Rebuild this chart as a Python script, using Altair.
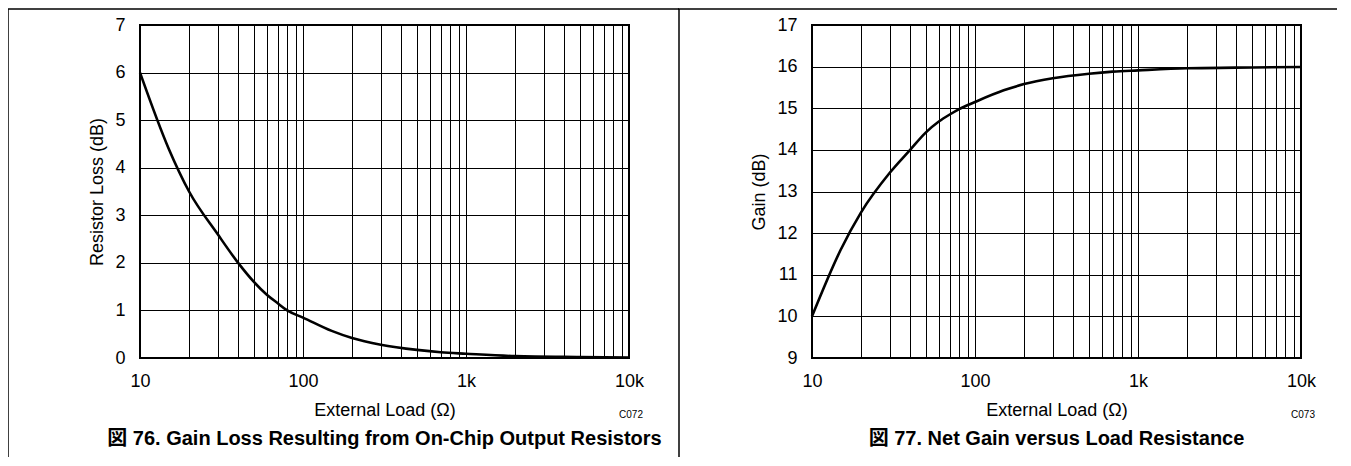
import altair as alt
import pandas as pd

# ---- data ----
load_ohm = [10, 15, 20, 30, 40, 50, 60, 70, 80, 100, 150, 200, 300, 500, 700, 1000, 2000, 5000, 10000]
resistor_loss_db = [6.0, 4.4, 3.5, 2.6, 2.0, 1.6, 1.33, 1.15, 1.0, 0.85, 0.57, 0.42, 0.28, 0.17, 0.12, 0.09, 0.04, 0.02, 0.01]
net_gain_db = [10.0, 11.6, 12.5, 13.45, 14.0, 14.42, 14.68, 14.85, 14.98, 15.15, 15.43, 15.58, 15.72, 15.83, 15.88, 15.91, 15.96, 15.98, 15.99]

grid_x = [10, 20, 30, 40, 50, 60, 70, 80, 90,
          100, 200, 300, 400, 500, 600, 700, 800, 900,
          1000, 2000, 3000, 4000, 5000, 6000, 7000, 8000, 9000, 10000]
x_tick_values = [10, 100, 1000, 10000]
x_tick_labels = ["10", "100", "1k", "10k"]
left_y_ticks = [0, 1, 2, 3, 4, 5, 6, 7]
right_y_ticks = [9, 10, 11, 12, 13, 14, 15, 16, 17]

FONT = "Liberation Sans, Arial, Noto Sans CJK JP"
W, H = 489, 333

label_expr = " : ".join(
    f"datum.value == {v} ? '{l}'" for v, l in zip(x_tick_values, x_tick_labels)
) + " : ''"

df = pd.DataFrame({"load": load_ohm, "loss": resistor_loss_db, "gain": net_gain_db})
one = pd.DataFrame({"k": [0]})


def panel(ycol, ytitle, ydomain, yticks, ytitle_x, code, caption, top_from, top_to, divider):
    xenc = alt.X(
        "load:Q",
        scale=alt.Scale(type="log", domain=[10, 10000], nice=False),
        axis=alt.Axis(
            values=grid_x, labelExpr=label_expr, title="External Load (Ω)",
            grid=True, ticks=False, domain=False, labelFlush=False, labelOverlap=False,
            labelPadding=14, titleY=52, titleBaseline="middle",
        ),
    )
    yenc = alt.Y(
        f"{ycol}:Q",
        scale=alt.Scale(domain=ydomain, nice=False, zero=False),
        axis=alt.Axis(
            values=yticks, title=ytitle, grid=True, ticks=False, domain=False,
            labelPadding=15, titleX=ytitle_x, titleY=H / 2, titleBaseline="middle",
        ),
    )
    line = alt.Chart(df).mark_line(color="black", strokeWidth=2.6, interpolate="monotone").encode(
        x=xenc, y=yenc
    )
    layers = [line]
    base = alt.Chart(one)
    # top border of the page frame
    layers.append(base.mark_rule(color="black", strokeWidth=1.5).encode(
        x=alt.value(top_from), x2=alt.value(top_to), y=alt.value(-16)))
    for xv in divider:
        layers.append(base.mark_rule(color="black", strokeWidth=1.5).encode(
            x=alt.value(xv), y=alt.value(-16), y2=alt.value(432)))
    layers.append(base.mark_text(font=FONT, fontSize=10, color="black").encode(
        x=alt.value(491), y=alt.value(390), text=alt.value(code)))
    layers.append(base.mark_text(font=FONT, fontSize=20, fontWeight="bold", color="black",
                                 align="center", baseline="middle").encode(
        x=alt.value(W / 2), y=alt.value(414), text=alt.value(caption)))
    return alt.layer(*layers).properties(width=W, height=H)


left = panel("loss", "Resistor Loss (dB)", [0, 7], left_y_ticks, -43, "C072",
             "図 76. Gain Loss Resulting from On-Chip Output Resistors",
             -132, 539, [-132, 539])
right = panel("gain", "Gain (dB)", [9, 17], right_y_ticks, -53, "C073",
              "図 77. Net Gain versus Load Resistance",
              -134, 525, [])

chart = alt.hconcat(left, right, spacing=-5).properties(
    padding={"left": -2, "top": -1, "right": 0, "bottom": 0}
).configure_view(
    stroke="black", strokeWidth=2
).configure_axis(
    labelFont=FONT, titleFont=FONT, labelFontSize=18, titleFontSize=18,
    labelColor="black", titleColor="black", titleFontWeight="normal",
    gridColor="black", gridWidth=1, gridOpacity=1,
)

chart.save("out.html", embed_options={"renderer": "svg", "actions": False})
